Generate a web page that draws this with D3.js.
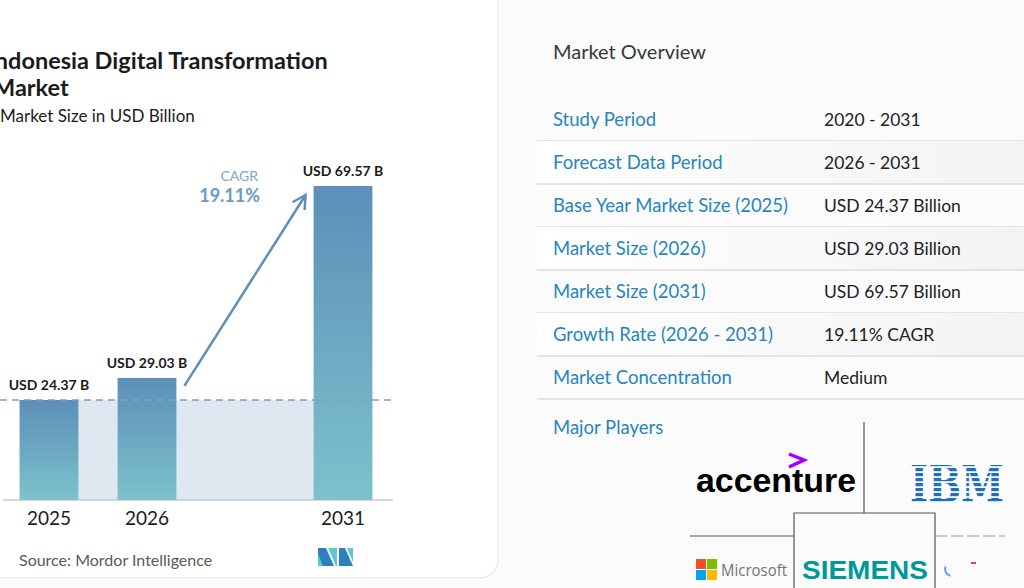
<!DOCTYPE html>
<html lang="en">
<head>
    <meta charset="UTF-8">
    <title>Indonesia Digital Transformation Market</title>
    <style>
        html, body {
            margin: 0px;
            padding: 0px;
            width: 1024px;
            height: 588px;
            overflow: hidden;
            background-color: #fbfbfb;
            font-family: 'Lato', 'Open Sans', sans-serif;
        }
        #vis {
            width: 1024px;
            height: 588px;
        }
    </style>
</head>
<body>
    <div id="vis"></div>
    <script src="https://d3js.org/d3.v7.min.js"></script>
    <script>

        // chart data
        var years = ["2025", "2026", "2031"];
        var values = [24.37, 29.03, 69.57];
        var valueLabels = ["USD 24.37 B", "USD 29.03 B", "USD 69.57 B"];
        var cagrLabel = "19.11%";

        // market overview table
        var rowLabels = ["Study Period", "Forecast Data Period", "Base Year Market Size (2025)",
            "Market Size (2026)", "Market Size (2031)", "Growth Rate (2026 - 2031)", "Market Concentration"];
        var rowValues = ["2020 - 2031", "2026 - 2031", "USD 24.37 Billion", "USD 29.03 Billion",
            "USD 69.57 Billion", "19.11% CAGR", "Medium"];

        var width = 1024;
        var height = 588;

        var svg = d3.select("#vis")
            .append("svg")
            .attr("width", width)
            .attr("height", height);

        var defs = svg.append("defs");

        var grad = defs.append("linearGradient")
            .attr("id", "barGrad")
            .attr("x1", 0).attr("y1", 0).attr("x2", 0).attr("y2", 1);
        grad.append("stop").attr("offset", "0%").attr("stop-color", "#5c8fb9");
        grad.append("stop").attr("offset", "100%").attr("stop-color", "#7dc2cc");

        var rowGrad = defs.append("linearGradient")
            .attr("id", "rowGrad")
            .attr("x1", 0).attr("y1", 0).attr("x2", 1).attr("y2", 0);
        rowGrad.append("stop").attr("offset", "0%").attr("stop-color", "#ffffff");
        rowGrad.append("stop").attr("offset", "100%").attr("stop-color", "#f3f3f3");

        var stripes = defs.append("pattern")
            .attr("id", "ibmStripes")
            .attr("patternUnits", "userSpaceOnUse")
            .attr("width", 10).attr("height", 5)
            .attr("y", 463);
        stripes.append("rect").attr("width", 10).attr("height", 3.2).attr("fill", "#1f6fc1");

        // left card
        svg.append("path")
            .attr("d", "M-2,-2 H498 V558 Q498,578 478,578 H-2 Z")
            .attr("fill", "#ffffff")
            .attr("stroke", "#ebebeb")
            .attr("stroke-width", 1.5);

        // titles (left edge is cropped in the original)
        var title = svg.append("text")
            .attr("font-size", 23.5)
            .attr("font-weight", 700)
            .attr("fill", "#1b1b1b");
        title.append("tspan").attr("x", -12).attr("y", 69).text("Indonesia Digital Transformation");
        title.append("tspan").attr("x", -7).attr("y", 96).text("Market");

        svg.append("text")
            .attr("x", 0).attr("y", 122)
            .attr("font-size", 17)
            .attr("fill", "#1b1b1b")
            .text("Market Size in USD Billion");

        // scales
        var baseY = 500;
        var x = d3.scaleBand()
            .domain(["2025", "2026", "gap", "2031"])
            .range([0, 392])
            .paddingInner(0.4)
            .paddingOuter(0.2);

        var y = d3.scaleLinear()
            .domain([3.25, 69.57])
            .range([baseY, 186]);

        var chart = svg.append("g");

        // shaded base area
        chart.append("rect")
            .attr("x", x("2025"))
            .attr("y", y(values[0]))
            .attr("width", x("2031") + x.bandwidth() - x("2025"))
            .attr("height", baseY - y(values[0]))
            .attr("fill", "#dfe8f0");

        chart.selectAll(".bar")
            .data(values)
            .enter()
            .append("rect")
            .attr("class", "bar")
            .attr("x", function(d, i){ return x(years[i]); })
            .attr("y", function(d){ return y(d); })
            .attr("width", x.bandwidth())
            .attr("height", function(d){ return baseY - y(d); })
            .attr("fill", "url(#barGrad)");

        // dashed reference line at base year
        chart.append("line")
            .attr("x1", 0).attr("x2", 396)
            .attr("y1", y(values[0])).attr("y2", y(values[0]))
            .attr("stroke", "#7ea2c0")
            .attr("stroke-width", 1.3)
            .attr("stroke-dasharray", "7,5");

        // baseline
        chart.append("line")
            .attr("x1", 3).attr("x2", 393)
            .attr("y1", baseY).attr("y2", baseY)
            .attr("stroke", "#a8b4bd")
            .attr("stroke-width", 1);

        // value labels
        chart.selectAll(".vlabel")
            .data(values)
            .enter()
            .append("text")
            .attr("class", "vlabel")
            .attr("x", function(d, i){ return x(years[i]) + x.bandwidth() / 2; })
            .attr("y", function(d){ return y(d) - 10; })
            .attr("text-anchor", "middle")
            .attr("font-size", 14)
            .attr("font-weight", 700)
            .attr("fill", "#1b1b1b")
            .text(function(d, i){ return valueLabels[i]; });

        // x axis labels
        var xAxis = d3.axisBottom(x).tickSize(0).tickPadding(0)
            .tickFormat(function(d){ return d === "gap" ? "" : d; });
        var xg = chart.append("g")
            .attr("transform", "translate(0," + (baseY + 7) + ")")
            .call(xAxis);
        xg.select(".domain").remove();
        xg.selectAll("text")
            .attr("dy", "0.95em")
            .attr("font-family", "'Lato', sans-serif")
            .attr("font-size", 19)
            .attr("fill", "#1b1b1b");

        // CAGR arrow
        var ax1 = x("2026") + x.bandwidth() + 8, ay1 = y(values[1]) + 8;
        var ax2 = x("2031") - 8, ay2 = y(values[2]) + 9;
        chart.append("line")
            .attr("x1", ax1).attr("y1", ay1)
            .attr("x2", ax2).attr("y2", ay2)
            .attr("stroke", "#5d8fb9")
            .attr("stroke-width", 2.5);
        var ang = Math.atan2(ay2 - ay1, ax2 - ax1);
        var hl = 15;
        chart.append("path")
            .attr("d", "M" + (ax2 - hl * Math.cos(ang - 0.5)) + "," + (ay2 - hl * Math.sin(ang - 0.5)) +
                " L" + ax2 + "," + ay2 +
                " L" + (ax2 - hl * Math.cos(ang + 0.5)) + "," + (ay2 - hl * Math.sin(ang + 0.5)))
            .attr("fill", "none")
            .attr("stroke", "#5d8fb9")
            .attr("stroke-width", 2.5)
            .attr("stroke-linejoin", "miter");

        chart.append("text")
            .attr("x", 258).attr("y", 181)
            .attr("text-anchor", "end")
            .attr("font-size", 14)
            .attr("fill", "#7ea6c6")
            .text("CAGR");
        chart.append("text")
            .attr("x", 260).attr("y", 202)
            .attr("text-anchor", "end")
            .attr("font-size", 18)
            .attr("font-weight", 700)
            .attr("fill", "#6a9bc4")
            .text(cagrLabel);

        // source
        svg.append("text")
            .attr("x", 19).attr("y", 566)
            .attr("font-size", 16)
            .attr("fill", "#5a5a5a")
            .text("Source: Mordor Intelligence");

        // MI logo
        var logo = svg.append("g").attr("transform", "translate(318,548)");
        logo.append("path").attr("d", "M0,0 H8 L16,18 H0 Z").attr("fill", "#2f7fc0");
        logo.append("path").attr("d", "M0,6 L5,18 H0 Z").attr("fill", "#5fc7d1");
        logo.append("path").attr("d", "M10,0 H19 V18 H18 Z").attr("fill", "#5fc7d1");
        logo.append("path").attr("d", "M21,0 H27 L35,18 H21 Z").attr("fill", "#2f7fc0");
        logo.append("path").attr("d", "M29,0 H35 V14 Z").attr("fill", "#5fc7d1");

        // market overview panel
        svg.append("text")
            .attr("x", 553).attr("y", 59)
            .attr("font-size", 20)
            .attr("fill", "#333a40")
            .text("Market Overview");

        var rowY = d3.scaleBand()
            .domain(d3.range(rowLabels.length))
            .range([98, 399]);

        var rows = svg.selectAll(".row")
            .data(rowLabels)
            .enter()
            .append("g")
            .attr("class", "row")
            .attr("transform", function(d, i){ return "translate(0," + rowY(i) + ")"; });

        rows.filter(function(d, i){ return i % 2 === 1; })
            .append("rect")
            .attr("x", 537).attr("y", 0)
            .attr("width", width - 537)
            .attr("height", rowY.bandwidth())
            .attr("fill", "url(#rowGrad)");

        rows.append("line")
            .attr("x1", 537).attr("x2", width)
            .attr("y1", rowY.bandwidth()).attr("y2", rowY.bandwidth())
            .attr("stroke", "#dcdcdc")
            .attr("stroke-width", 1.5);

        rows.append("text")
            .attr("x", 553)
            .attr("y", rowY.bandwidth() / 2 + 6)
            .attr("font-size", 18.5)
            .attr("fill", "#2786ba")
            .text(function(d){ return d; });

        rows.append("text")
            .attr("x", 824)
            .attr("y", rowY.bandwidth() / 2 + 6)
            .attr("font-size", 17.5)
            .attr("fill", "#222222")
            .text(function(d, i){ return rowValues[i]; });

        svg.append("text")
            .attr("x", 553).attr("y", 434)
            .attr("font-size", 18.5)
            .attr("fill", "#2786ba")
            .text("Major Players");

        // major players grid
        var grid = svg.append("g").attr("stroke", "#555").attr("stroke-width", 1.2).attr("fill", "none");
        grid.append("line").attr("x1", 864).attr("x2", 864).attr("y1", 422).attr("y2", 513);
        grid.append("line").attr("x1", 690).attr("x2", 794).attr("y1", 536).attr("y2", 536);
        grid.append("path").attr("d", "M794,588 V513 H935 V588");
        grid.append("line").attr("x1", 935).attr("x2", 1005).attr("y1", 536).attr("y2", 536)
            .attr("stroke", "#999").attr("stroke-dasharray", "12,4");

        // accenture
        svg.append("text")
            .attr("x", 696).attr("y", 492)
            .attr("font-family", "'Liberation Sans', Arial, sans-serif")
            .attr("font-size", 33)
            .attr("font-weight", 700)
            .attr("textLength", 160)
            .attr("lengthAdjust", "spacingAndGlyphs")
            .attr("fill", "#000000")
            .text("accenture");
        svg.append("path")
            .attr("d", "M789,454 L804,460 L789,467")
            .attr("fill", "none")
            .attr("stroke", "#a100ff")
            .attr("stroke-width", 3.5);

        // IBM
        svg.append("text")
            .attr("x", 910).attr("y", 502)
            .attr("font-family", "'DejaVu Serif', serif")
            .attr("font-size", 50)
            .attr("font-weight", 700)
            .attr("textLength", 94)
            .attr("lengthAdjust", "spacingAndGlyphs")
            .attr("fill", "url(#ibmStripes)")
            .text("IBM");

        // Microsoft
        var ms = svg.append("g").attr("transform", "translate(696,559)");
        ms.append("rect").attr("x", 0).attr("y", 0).attr("width", 10).attr("height", 10).attr("fill", "#f25022");
        ms.append("rect").attr("x", 11).attr("y", 0).attr("width", 10).attr("height", 10).attr("fill", "#7fba00");
        ms.append("rect").attr("x", 0).attr("y", 11).attr("width", 10).attr("height", 10).attr("fill", "#00a4ef");
        ms.append("rect").attr("x", 11).attr("y", 11).attr("width", 10).attr("height", 10).attr("fill", "#ffb900");
        svg.append("text")
            .attr("x", 721).attr("y", 576)
            .attr("font-family", "'Open Sans', sans-serif")
            .attr("font-size", 17)
            .attr("textLength", 66)
            .attr("lengthAdjust", "spacingAndGlyphs")
            .attr("fill", "#737373")
            .text("Microsoft");

        // Siemens
        svg.append("text")
            .attr("x", 802).attr("y", 579)
            .attr("font-family", "'Liberation Sans', Arial, sans-serif")
            .attr("font-size", 26)
            .attr("font-weight", 700)
            .attr("textLength", 126)
            .attr("lengthAdjust", "spacingAndGlyphs")
            .attr("fill", "#009999")
            .text("SIEMENS");

        // partial Google mark
        svg.append("path")
            .attr("d", d3.arc()({ innerRadius: 6, outerRadius: 8, startAngle: -2.9, endAngle: -1.2 }))
            .attr("transform", "translate(952,569)")
            .attr("fill", "#4285f4")
            .attr("opacity", 0.8);
        svg.append("rect")
            .attr("x", 971).attr("y", 562).attr("width", 5).attr("height", 2)
            .attr("fill", "#ea4335");

    </script>
</body>
</html>
